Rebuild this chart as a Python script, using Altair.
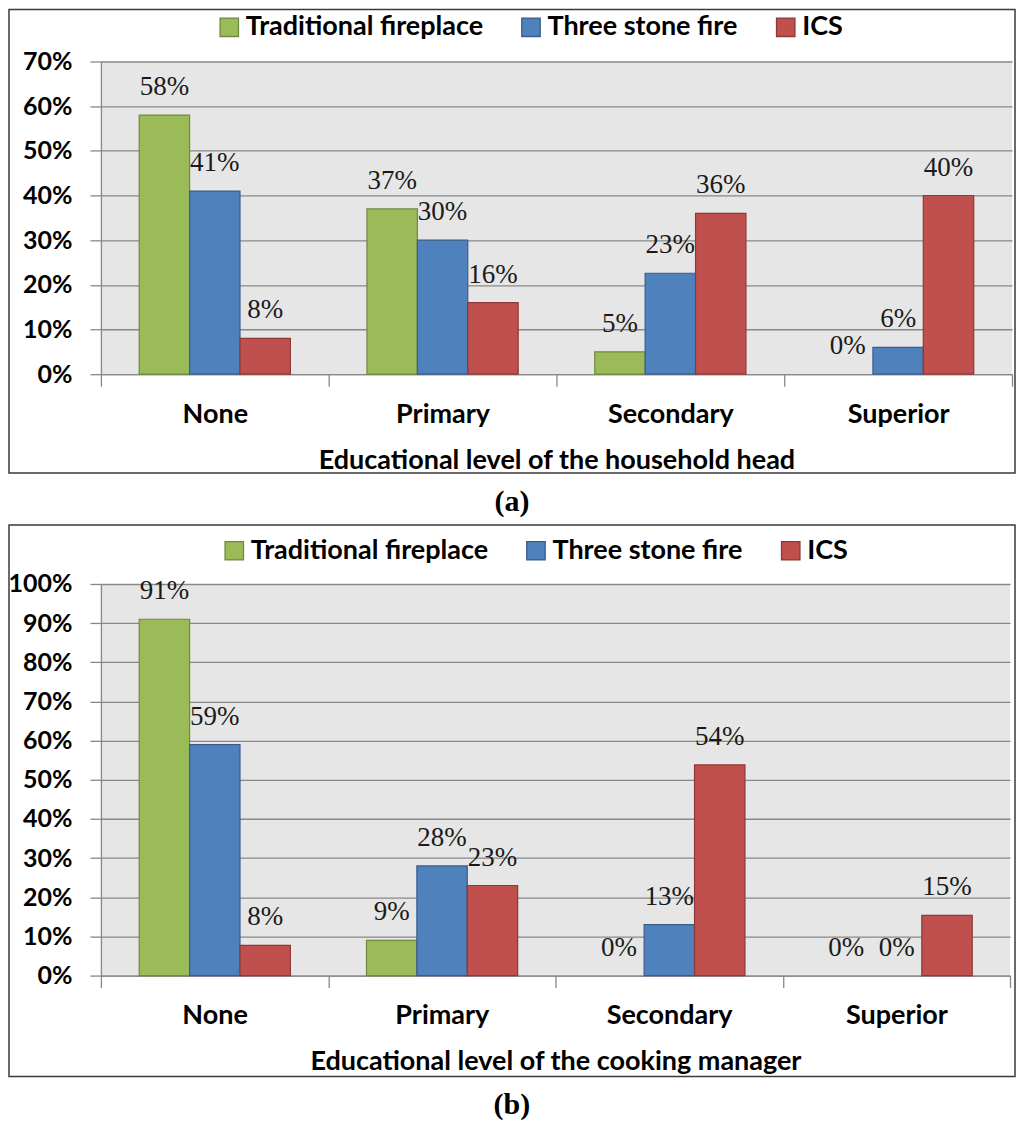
import altair as alt
import pandas as pd

levels = ["None", "Primary", "Secondary", "Superior"]
stoves = ["Traditional fireplace", "Three stone fire", "ICS"]

# (a) Educational level of the household head
head_trad = [0.58, 0.37, 0.05, 0.00]
head_three = [0.41, 0.30, 0.226, 0.06]
head_ics = [0.08, 0.16, 0.36, 0.40]

# (b) Educational level of the cooking manager
cook_trad = [0.91, 0.09, 0.00, 0.00]
cook_three = [0.59, 0.28, 0.13, 0.00]
cook_ics = [0.077, 0.23, 0.538, 0.154]

ticks_a = [0, 0.1, 0.2, 0.3, 0.4, 0.5, 0.6, 0.7]
ticks_b = [0, 0.1, 0.2, 0.3, 0.4, 0.5, 0.6, 0.7, 0.8, 0.9, 1.0]

fill_colors = ["#9bbb59", "#4f81bd", "#c0504d"]
stroke_colors = ["#71893f", "#385d8a", "#8c3836"]

LABEL_FONT = "Lato"


def make_df(trad, three, ics):
    rows = []
    for series, name in zip([trad, three, ics], stoves):
        for lev, v in zip(levels, series):
            rows.append({"level": lev, "stove": name, "value": v})
    return pd.DataFrame(rows)


def panel(df, ymax, ticks, W, H, xtitle, caption, lx, ly, fl, ft, fr, fb):
    x = alt.X(
        "level:N", sort=levels, title=xtitle,
        scale=alt.Scale(paddingInner=0, paddingOuter=0),
        axis=alt.Axis(
            tickBand="extent", tickSize=12, tickColor="#888888", tickWidth=1.3,
            domainColor="#888888", domainWidth=1.3,
            labelFont=LABEL_FONT, labelFontSize=27, labelFontWeight="bold",
            labelColor="black", labelPadding=15, labelAngle=0,
            titleFont=LABEL_FONT, titleFontSize=27, titleFontWeight="bold",
            titleColor="black", titlePadding=20, grid=False,
        ),
    )
    xo = alt.XOffset("stove:N", sort=stoves,
                     scale=alt.Scale(paddingOuter=0.76, paddingInner=0))
    y = alt.Y(
        "value:Q", scale=alt.Scale(domain=[0, ymax], nice=False), title=None,
        axis=alt.Axis(
            values=ticks, tickCount=len(ticks), format=".0%", tickSize=11,
            tickColor="#888888", tickWidth=1.3, domainColor="#888888",
            domainWidth=1.3, gridColor="#888888", gridWidth=1.3,
            labelFont=LABEL_FONT, labelFontSize=25, labelFontWeight="bold",
            labelColor="black", labelPadding=18, labelOverlap=False,
        ),
    )
    leg = alt.Legend(
        orient="none", legendX=lx, legendY=ly, direction="horizontal",
        title=None, symbolType="square", symbolSize=340, symbolStrokeWidth=1.3,
        labelFont=LABEL_FONT, labelFontSize=27, labelFontWeight="bold",
        labelColor="black", labelOffset=3, columnPadding=34, labelLimit=500,
        padding=0,
    )
    bars = alt.Chart(df).mark_bar(strokeWidth=1.2).encode(
        x=x, xOffset=xo, y=y,
        fill=alt.Fill("stove:N", sort=stoves,
                      scale=alt.Scale(domain=stoves, range=fill_colors), legend=leg),
        stroke=alt.Stroke("stove:N", sort=stoves,
                          scale=alt.Scale(domain=stoves, range=stroke_colors), legend=leg),
        strokeOpacity=alt.condition("datum.value > 0", alt.value(1), alt.value(0)),
    )
    labels = alt.Chart(df).mark_text(
        font="Liberation Serif", fontSize=27, color="#1a1a1a",
        baseline="alphabetic", dy=-20,
    ).encode(
        x=alt.X("level:N", sort=levels),
        xOffset=alt.XOffset("stove:N", sort=stoves),
        y=alt.Y("value:Q"),
        text=alt.Text("value:Q", format=".0%"),
    )
    frame = alt.Chart(alt.Data(values=[{"k": 1}])).mark_rect(
        filled=False, stroke="#3a3a3a", strokeWidth=1.5
    ).encode(
        x=alt.value(fl), x2=alt.value(W + fr),
        y=alt.value(ft), y2=alt.value(H + fb),
    )
    return alt.layer(frame, bars, labels).properties(
        width=W, height=H,
        title=alt.TitleParams(
            text=caption, orient="bottom", anchor="middle", frame="bounds",
            font="Liberation Serif", fontSize=30, fontWeight="bold",
            color="black", offset=13,
        ),
    )


pa = panel(make_df(head_trad, head_three, head_ics), 0.7, ticks_a, 912, 313,
           "Educational level of the household head", "(a)",
           115, -48, -92, -52, 3, 99)
pb = panel(make_df(cook_trad, cook_three, cook_ics), 1.0, ticks_b, 910, 392,
           "Educational level of the cooking manager", "(b)",
           120, -47, -92, -59, 5, 101)

chart = alt.vconcat(pa, pb, spacing=7).resolve_scale(
    fill="independent", stroke="independent", x="independent", y="independent"
).resolve_legend(fill="independent", stroke="independent").properties(
    padding=0
).configure_view(fill="#e6e6e6", strokeWidth=0)

chart.save("out.html", embed_options={"renderer": "svg", "actions": False})
